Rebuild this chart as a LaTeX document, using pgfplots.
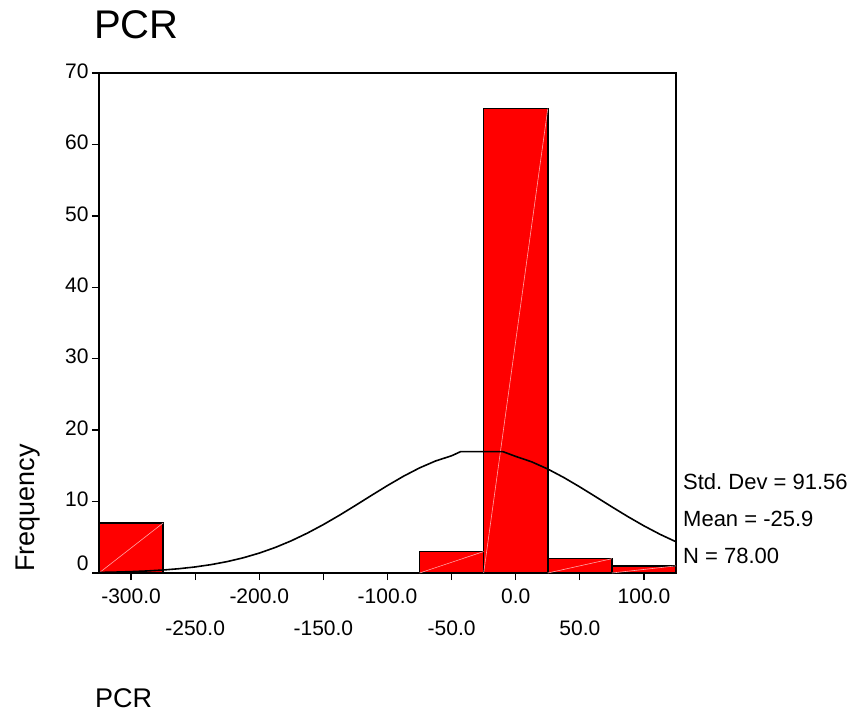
\documentclass[border=0pt]{standalone}
\usepackage{fontspec}
\setmainfont{Liberation Sans}
\usepackage{pgfplots}
\pgfplotsset{compat=1.18}
\usepackage{pgfplotstable}
\frenchspacing

% Histogram bins (left edge, count); bin width 50
\pgfplotstableread{
left count
-325 7
-275 0
-75 3
-25 65
25 2
75 1
125 1
}\histbins

% Fitted normal curve (mean -25.9, sd 91.56, N 78, bin width 50)
\pgfplotstableread{
x f
-325 0.082
-312.5 0.127
-300 0.192
-287.5 0.287
-275 0.420
-262.5 0.603
-250 0.850
-237.5 1.176
-225 1.597
-212.5 2.129
-200 2.786
-187.5 3.578
-175 4.512
-162.5 5.583
-150 6.781
-137.5 8.082
-125 9.458
-112.5 10.864
-100 12.245
-87.5 13.550
-75 14.715
-62.5 15.685
-50 16.412
-43 16.99
-10 16.99
0 16.324
12.5 15.560
25 14.557
37.5 13.368
50 12.049
62.5 10.661
75 9.258
87.5 7.890
100 6.601
112.5 5.420
125 4.370
}\normalcurve

\begin{document}
\begin{tikzpicture}[x=1pt,y=1pt]
\begin{axis}[
  at={(99pt,140pt)}, anchor=south west,
  scale only axis, width=577pt, height=500pt,
  xmin=-325, xmax=125, ymin=0, ymax=70,
  axis line style={line width=2pt},
  tick style={line width=1.3pt, black},
  tick align=outside, major tick length=7pt,
  xtick pos=left, ytick pos=left,
  xtick={-300,-200,-100,0,100},
  xticklabels={-300.0,-200.0,-100.0,0.0,100.0},
  xticklabel style={yshift=-5pt},
  extra x ticks={-250,-150,-50,50},
  extra x tick labels={-250.0,-150.0,-50.0,50.0},
  extra x tick style={xticklabel style={yshift=-32pt}},
  ytick={10,20,...,70},
  extra y ticks={0},
  extra y tick style={yticklabel style={yshift=8pt}},
  yticklabel style={yshift=2pt},
  ticklabel style={font=\fontsize{21}{24}\selectfont},
  /pgf/number format/assume math mode=true,
]
\addplot[ybar interval, fill=red, draw=black, line width=1.5pt]
  table[x=left, y=count] {\histbins};
\addplot[red!35!white, line width=0.6pt] coordinates {(-325,0) (-275,7)};
\addplot[red!35!white, line width=0.6pt] coordinates {(-75,0) (-25,3)};
\addplot[red!35!white, line width=0.6pt] coordinates {(-25,0) (25,65)};
\addplot[red!35!white, line width=0.6pt] coordinates {(25,0) (75,2)};
\addplot[red!35!white, line width=0.6pt] coordinates {(75,0) (125,1)};
\addplot[black, line width=1.6pt] table[x=x, y=f] {\normalcurve};
\end{axis}
\node[anchor=base west, inner sep=0, font=\fontsize{40}{44}\selectfont] at (94pt,674pt) {PCR};
\node[anchor=base west, inner sep=0, font=\fontsize{27}{30}\selectfont] at (95pt,6pt) {PCR};
\node[anchor=base west, inner sep=0, rotate=90, font=\fontsize{27}{30}\selectfont] at (35pt,141pt) {Frequency};
\node[anchor=base west, inner sep=0, font=\fontsize{22}{26}\selectfont] at (683pt,224pt) {Std. Dev = 91.56};
\node[anchor=base west, inner sep=0, font=\fontsize{22}{26}\selectfont] at (683pt,187pt) {Mean = -25.9};
\node[anchor=base west, inner sep=0, font=\fontsize{22}{26}\selectfont] at (683pt,150pt) {N = 78.00};
\pgfresetboundingbox
\path[use as bounding box] (0,0) rectangle (851pt,713pt);
\end{tikzpicture}
\end{document}
